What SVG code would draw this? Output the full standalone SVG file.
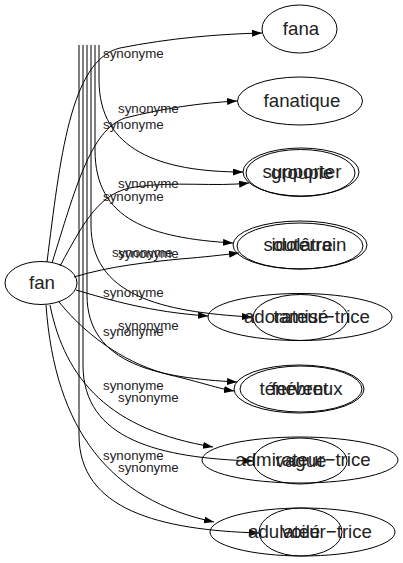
<svg xmlns="http://www.w3.org/2000/svg" width="403" height="563" viewBox="0 0 403 563">
<style>
.node ellipse{fill:none;stroke:#000;stroke-width:1}
.node text{font-family:"Liberation Sans",Arial,sans-serif;font-size:18.67px;text-anchor:middle;fill:#222}
.edge path{fill:none;stroke:#000;stroke-width:1}
.edge text{font-family:"Liberation Sans",Arial,sans-serif;font-size:13.33px;fill:#222}
</style>
<defs>
<marker id="ah" markerUnits="userSpaceOnUse" markerWidth="11" markerHeight="8" refX="10" refY="3.5" orient="auto"><path d="M0,0 L10,3.5 L0,7 z" fill="#000"/></marker>
</defs>
<rect width="403" height="563" fill="#fff"/>
<g id="edges" class="edge">
<path marker-end="url(#ah)" d="M47,262 C60,160 70,60 120,48 C170,38 220,34 262,33"/>
<path marker-end="url(#ah)" d="M52,263 C75,190 90,130 125,118 C165,108 200,103 237,101"/>
<path marker-end="url(#ah)" d="M60,266 C85,220 100,192 135,187 C175,181 215,187 249,183"/>
<path marker-end="url(#ah)" d="M74,277 C110,266 150,262 180,259 C205,257 222,255 239,253"/>
<path marker-end="url(#ah)" d="M76,290 C110,300 150,312 208,316"/>
<path marker-end="url(#ah)" d="M59,302 C90,340 130,365 170,375 C200,382 220,389 234,391"/>
<path marker-end="url(#ah)" d="M50,305 C65,380 110,430 213,447"/>
<path marker-end="url(#ah)" d="M46,305 C55,430 110,500 214,522"/>
<path marker-end="url(#ah)" d="M99,45 V80 C99,150 160,172 243,172"/>
<path marker-end="url(#ah)" d="M95,45 V150 C95,220 150,238 233,243"/>
<path marker-end="url(#ah)" d="M91,45 V225 C91,295 160,312 252,317"/>
<path marker-end="url(#ah)" d="M87,45 V295 C87,365 160,378 237,382"/>
<path marker-end="url(#ah)" d="M83,45 V365 C83,440 160,458 253,461"/>
<path marker-end="url(#ah)" d="M79,45 V435 C79,510 160,530 259,533"/>
<text x="103" y="58">synonyme</text>
<text x="103" y="129">synonyme</text>
<text x="103" y="201">synonyme</text>
<text x="112" y="257">synonyme</text>
<text x="103" y="297">synonyme</text>
<text x="103" y="336">synonyme</text>
<text x="103" y="390">synonyme</text>
<text x="103" y="460">synonyme</text>
<text x="118" y="113">synonyme</text>
<text x="118" y="188">synonyme</text>
<text x="118" y="258">synonyme</text>
<text x="118" y="330">synonyme</text>
<text x="118" y="402">synonyme</text>
<text x="118" y="472">synonyme</text>
</g>
<g id="node-fan" class="node"><ellipse cx="41" cy="283" rx="36" ry="21.5"/><text x="42" y="289">fan</text></g>
<g id="node-fana" class="node"><ellipse cx="299.5" cy="29" rx="37.5" ry="24"/><text x="301" y="35">fana</text></g>
<g id="node-fanatique" class="node"><ellipse cx="300" cy="101" rx="62.5" ry="24"/><text x="302" y="107">fanatique</text></g>
<g id="node-supporter" class="node"><ellipse cx="301" cy="172" rx="58" ry="24"/><text x="302" y="178">supporter</text></g>
<g id="node-groupie" class="node"><ellipse cx="300.5" cy="173" rx="54.5" ry="23.5"/><text x="302" y="179">groupie</text></g>
<g id="node-souterrain" class="node"><ellipse cx="300" cy="245" rx="67" ry="24"/><text x="305" y="251">souterrain</text></g>
<g id="node-idolatre" class="node"><ellipse cx="300" cy="246" rx="63" ry="23"/><text x="302" y="251">idolâtre</text></g>
<g id="node-adorateur" class="node"><ellipse cx="300" cy="317" rx="92" ry="23.5"/><text x="307" y="323">adorateur−trice</text></g>
<g id="node-tamise" class="node"><ellipse cx="300.5" cy="317.5" rx="47.5" ry="23"/><text x="301" y="323">tamisé</text></g>
<g id="node-tenebreux" class="node"><ellipse cx="299" cy="389" rx="65" ry="24"/><text x="301" y="395">ténébreux</text></g>
<g id="node-fervent" class="node"><ellipse cx="301" cy="389" rx="61" ry="23"/><text x="300" y="395">fervent</text></g>
<g id="node-admirateur" class="node"><ellipse cx="300" cy="460" rx="98" ry="23"/><text x="303" y="466">admirateur−trice</text></g>
<g id="node-vague" class="node"><ellipse cx="300" cy="461" rx="47" ry="23"/><text x="301" y="467">vague</text></g>
<g id="node-adulateur" class="node"><ellipse cx="302.5" cy="532" rx="92.5" ry="24"/><text x="310" y="538">adulateur−trice</text></g>
<g id="node-voile" class="node"><ellipse cx="300.5" cy="532" rx="41.5" ry="24"/><text x="301" y="538">voilé</text></g>
</svg>
